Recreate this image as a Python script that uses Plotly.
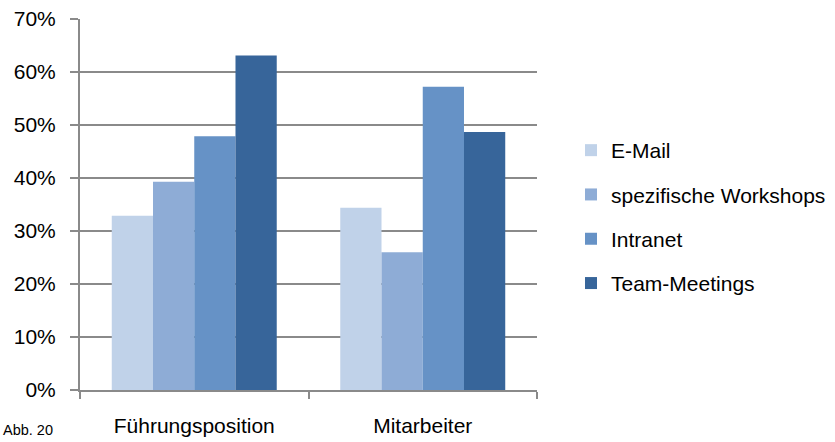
import plotly.graph_objects as go

categories = ["Führungsposition", "Mitarbeiter"]
series_names = ["E-Mail", "spezifische Workshops", "Intranet", "Team-Meetings"]
email = [32.9, 34.4]
workshops = [39.3, 26.0]
intranet = [47.9, 57.2]
meetings = [63.1, 48.7]
colors = ["#C0D2E9", "#8EACD6", "#6692C6", "#37659A"]
y_ticks = [0, 10, 20, 30, 40, 50, 60, 70]
y_labels = [f"{v}%" for v in y_ticks]

FONT = "Liberation Sans, Arial, sans-serif"
GRID = "#8A8A8A"

fig = go.Figure()
for i, (name, vals) in enumerate(zip(series_names, [email, workshops, intranet, meetings])):
    fig.add_trace(go.Bar(
        x=categories, y=vals, name=name, legendgroup=name,
        marker=dict(color=colors[i], line=dict(width=0)),
    ))

W, H = 835, 442
ml, mr, mt, mb = 80, 298, 19, 52
pw = W - ml - mr
ph = H - mt - mb

fig.update_layout(
    width=W, height=H,
    margin=dict(l=ml, r=mr, t=mt, b=mb, pad=0, autoexpand=False),
    paper_bgcolor="white", plot_bgcolor="white",
    font=dict(family=FONT, size=21, color="#000000"),
    barmode="group", bargap=0.278, bargroupgap=0,
    showlegend=True,
    legend=dict(
        x=(571 - ml) / pw, xanchor="left",
        y=(390 - 217) / ph, yanchor="middle",
        font=dict(family=FONT, size=21),
        tracegroupgap=14, itemwidth=30,
        bgcolor="rgba(0,0,0,0)",
    ),
    xaxis=dict(
        type="category",
        showline=True, linecolor=GRID, linewidth=2,
        ticks="outside", tickson="boundaries", ticklen=7, tickcolor=GRID, tickwidth=2,
        showgrid=False, ticklabelstandoff=16,
    ),
    yaxis=dict(
        range=[0, 70], tickvals=y_ticks, ticktext=y_labels,
        showline=True, linecolor=GRID, linewidth=2,
        ticks="outside", ticklen=8, tickcolor=GRID, tickwidth=2,
        showgrid=True, gridcolor=GRID, gridwidth=2,
        zeroline=False, ticklabelstandoff=10,
    ),
    annotations=[dict(
        text="Abb. 20", xref="paper", yref="paper",
        x=(1 - ml) / pw, xanchor="left",
        y=(390 - 430) / ph, yanchor="middle",
        showarrow=False, font=dict(family=FONT, size=14.5),
    )],
)

fig.write_html("out.html")
